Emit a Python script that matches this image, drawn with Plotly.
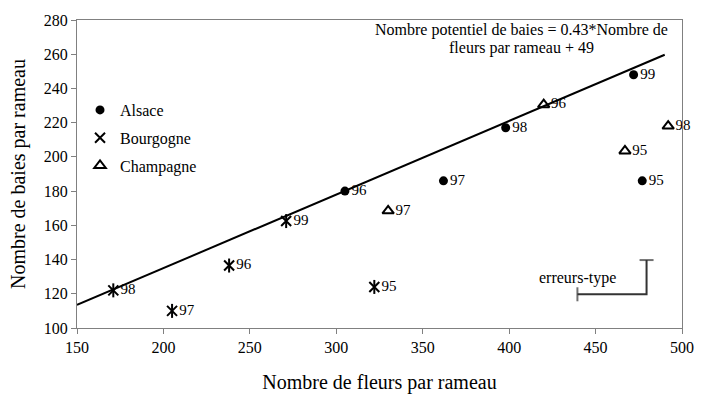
import plotly.graph_objects as go

# Flowers per shoot vs. potential berries per shoot, by region and year
alsace_x = [305, 362, 398, 472, 477]
alsace_y = [180, 186, 217, 248, 186]
alsace_lbl = ["96", "97", "98", "99", "95"]

bourgogne_x = [171, 205, 238, 271, 322]
bourgogne_y = [122, 110, 136.5, 162.5, 124]
bourgogne_lbl = ["98", "97", "96", "99", "95"]

champagne_x = [330, 420, 467, 492]
champagne_y = [168.5, 230.5, 203.5, 218]
champagne_lbl = ["97", "96", "95", "98"]

# Regression: berries = slope * flowers + intercept
slope = 0.43
intercept = 49
fit_x = [150, 490]

# Standard-error indicator: corner point with x (minus) and y (plus) errors
se_x = [479.5]
se_y = [119.7]
se_dx = [40]
se_dy = [20]

FONT = "'Liberation Serif', 'Times New Roman', serif"
AXIS_GREY = "#808080"

fig = go.Figure()

fig.add_trace(go.Scatter(
    x=fit_x, y=[slope * v + intercept for v in fit_x],
    mode="lines", line=dict(color="black", width=2),
    showlegend=False, hoverinfo="skip"))

label_font = dict(family=FONT, size=15, color="black")

fig.add_trace(go.Scatter(
    x=alsace_x, y=alsace_y, text=alsace_lbl, name="Alsace",
    mode="markers+text", textposition="middle right", cliponaxis=False,
    marker=dict(symbol="circle", size=9, color="black"),
    textfont=label_font, legendgroup="a"))

fig.add_trace(go.Scatter(
    x=bourgogne_x, y=bourgogne_y, text=bourgogne_lbl, name="Bourgogne",
    mode="markers+text", textposition="middle right", cliponaxis=False,
    marker=dict(symbol="x-thin-open", size=10, color="black",
                line=dict(width=2, color="black")),
    textfont=label_font, legendgroup="b"))
# vertical stroke completing the star marker
fig.add_trace(go.Scatter(
    x=bourgogne_x, y=bourgogne_y, mode="markers",
    marker=dict(symbol="line-ns-open", size=10, color="black",
                line=dict(width=2, color="black")),
    showlegend=False, legendgroup="b", hoverinfo="skip"))

fig.add_trace(go.Scatter(
    x=champagne_x, y=champagne_y, text=champagne_lbl, name="Champagne",
    mode="markers+text", textposition="middle right", cliponaxis=False,
    marker=dict(symbol="triangle-up-open", size=10, color="black",
                line=dict(width=2, color="black")),
    textfont=label_font, legendgroup="c"))

# standard-error bracket
x0, y0, dx, dy = se_x[0], se_y[0], se_dx[0], se_dy[0]
fig.add_trace(go.Scatter(
    x=[x0 - dx, x0, x0], y=[y0, y0, y0 + dy],
    mode="lines+markers",
    line=dict(color="#333333", width=2),
    marker=dict(symbol=["line-ns-open", "circle", "line-ew-open"],
                size=[10, 0, 10], color="#333333",
                line=dict(width=2, color="#333333")),
    showlegend=False, hoverinfo="skip"))

fig.add_annotation(
    x=x0 - dx, y=y0 + 9.5, xref="x", yref="y", text="erreurs-type",
    showarrow=False, font=dict(family=FONT, size=16, color="black"))

# regression equation, two centred lines
eq_font = dict(family=FONT, size=16, color="black")
fig.add_annotation(
    x=0.735, y=1.0 - 10.5 / 308, xref="paper", yref="paper",
    xanchor="center", yanchor="middle",
    text=f"Nombre potentiel de baies = {slope}*Nombre de",
    showarrow=False, font=eq_font)
fig.add_annotation(
    x=0.735, y=1.0 - 27.5 / 308, xref="paper", yref="paper",
    xanchor="center", yanchor="middle",
    text=f"fleurs par rameau + {intercept}",
    showarrow=False, font=eq_font)

fig.update_layout(
    width=705, height=394,
    margin=dict(l=77, r=23, t=20, b=66),
    paper_bgcolor="white", plot_bgcolor="white",
    font=dict(family=FONT, color="black"),
    showlegend=True,
    legend=dict(x=0.005, y=0.763, xanchor="left", yanchor="top",
                bgcolor="rgba(0,0,0,0)", tracegroupgap=4,
                font=dict(family=FONT, size=16, color="black")),
    xaxis=dict(range=[150, 500], dtick=50, tick0=150, automargin=False,
               showgrid=False, zeroline=False,
               showline=True, linecolor=AXIS_GREY, linewidth=1, mirror=True,
               ticks="outside", ticklen=5, tickcolor=AXIS_GREY,
               tickfont=dict(family=FONT, size=16, color="black"),
               title=dict(text="Nombre de fleurs par rameau", standoff=31,
                          font=dict(family=FONT, size=20, color="black"))),
    yaxis=dict(range=[100, 280], dtick=20, tick0=100, automargin=False,
               showgrid=False, zeroline=False,
               showline=True, linecolor=AXIS_GREY, linewidth=1, mirror=True,
               ticks="outside", ticklen=5, tickcolor=AXIS_GREY,
               tickfont=dict(family=FONT, size=16, color="black"),
               title=dict(text="Nombre de baies par rameau", standoff=12,
                          font=dict(family=FONT, size=20, color="black"))),
)

fig.write_html("out.html")
